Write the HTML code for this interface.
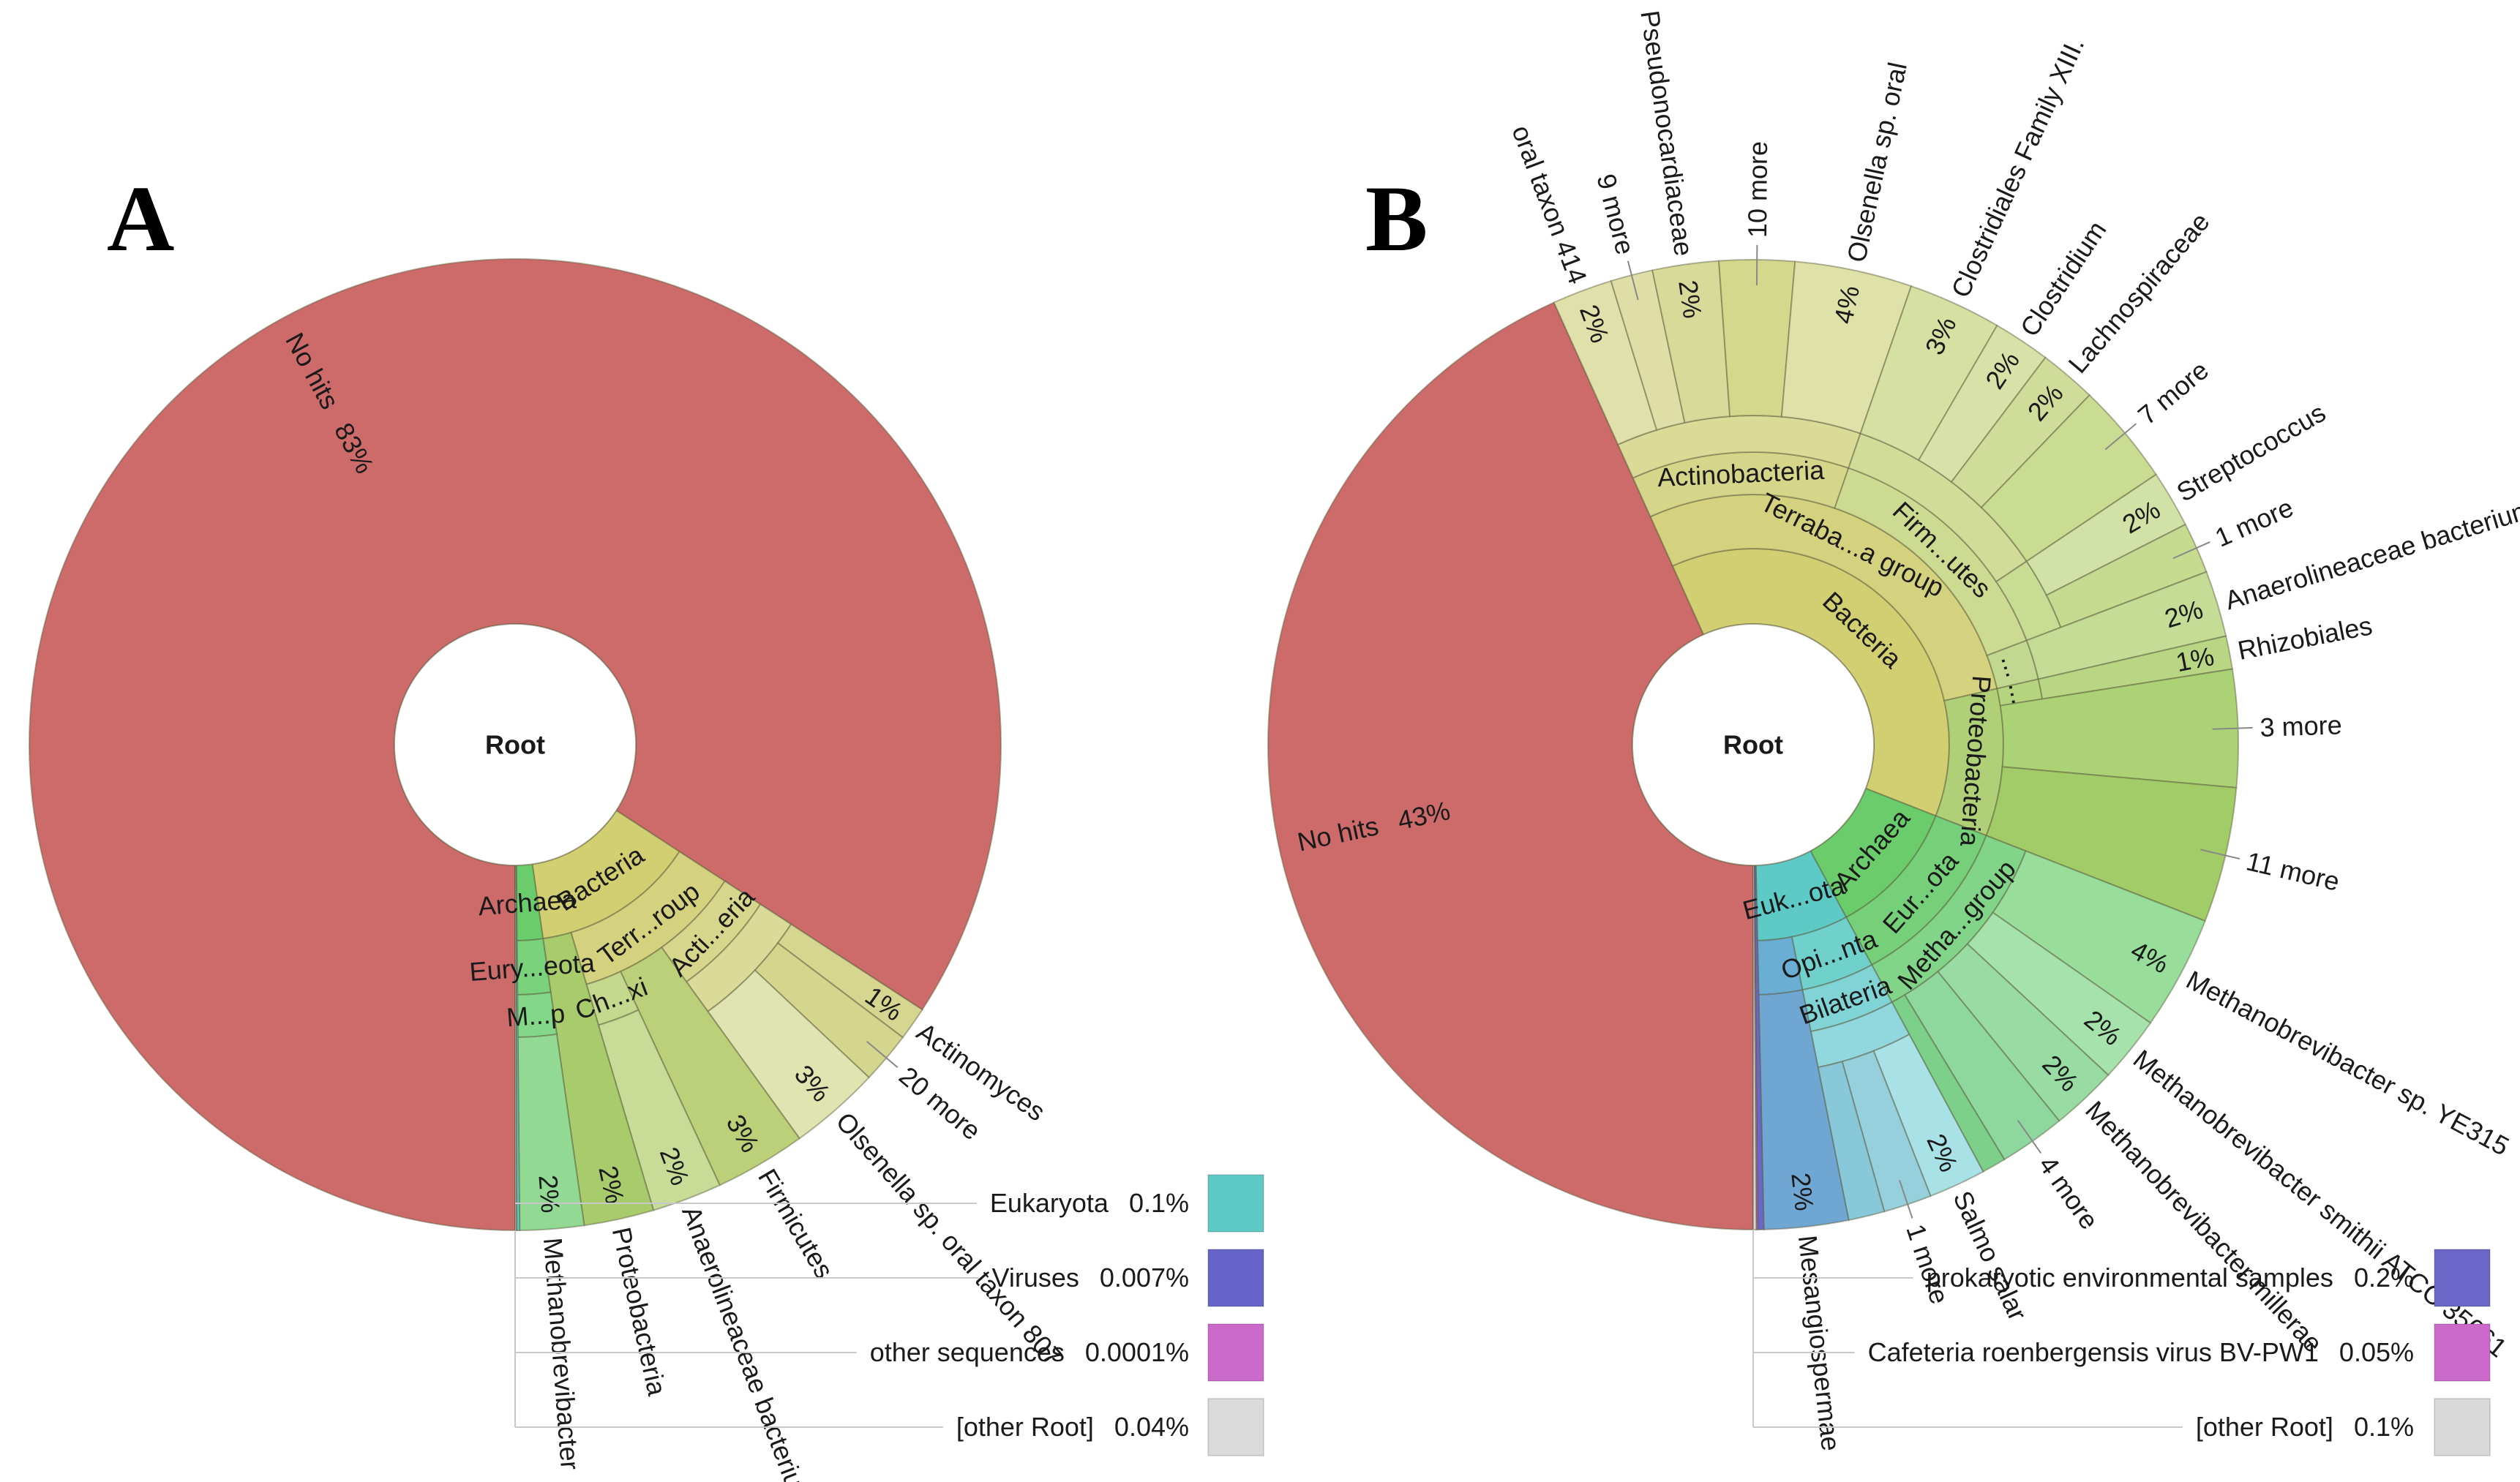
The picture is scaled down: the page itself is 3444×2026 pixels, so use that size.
<!DOCTYPE html>
<html><head><meta charset="utf-8">
<style>
html,body{margin:0;padding:0;background:#fff;}
svg{display:block;}
text{font-family:"Liberation Sans","DejaVu Sans",sans-serif;fill:#1a1a1a;}
.lbl{font-size:36px;}
.root{font-size:36px;font-weight:bold;}
.big{font-family:"Liberation Serif",serif;font-size:128px;font-weight:bold;fill:#000;}
</style></head>
<body>
<svg id="chart" width="3444" height="2026" viewBox="0 0 3444 2026" xmlns="http://www.w3.org/2000/svg">
<rect width="3444" height="2026" fill="#fff"/>
<text class="big" x="146" y="342">A</text>
<text class="big" x="1866" y="342">B</text>
<g id="gA"></g>
<g id="gB"></g>
</svg>
<script>
// ---------- Chart A data ----------
const namesA=["No hits","Bacteria","Terr...roup","Acti...eria","","Actinomyces","20 more","Olsenella sp. oral taxon 807","Firmicutes","Ch...xi","Anaerolineaceae bacterium","Proteobacteria","Archaea","Eury...eota","M...p","Methanobrevibacter","Eukaryota","Viruses","other sequences","[other Root]"];
const parentsA=[-1,-1,1,2,3,4,4,4,2,2,9,1,-1,12,13,14,-1,-1,-1,-1];
const valuesA=[83.3,13.4,11.1,5.8,5.8,1.1,1.7,3.0,3.0,2.3,2.3,2.3,2.1,2.1,2.1,2.1,0.1,0.007,0.0001,0.04];
const pctA=["83%","","","","","1%","","3%","3%","","2%","2%","","","","2%","","","",""];
const typesA=[4,1,1,1,0,2,3,2,2,1,2,2,1,1,1,2,0,0,0,0];
const colorsA=["#cd6b6b","#d2ce72","#d4d27e","#d6d68c","#dadb98","#d6d690","#d4d68e","#e0e4b0","#bcd07a","#c4d88e","#c8dc98","#a8cc6c","#6acc6a","#7ad27c","#84d688","#92da94","#5ecac6","#6764c9","#cc6acc","#dadada"];
const legendNamesA=["Eukaryota","Viruses","other sequences","[other Root]"];
const legendPctA=["0.1%","0.007%","0.0001%","0.04%"];
const legendColorsA=["#5ecac6","#6764c9","#cc6acc","#dadada"];

// ---------- Chart B data ----------
const namesB=["No hits","Bacteria","Terraba...a group","Actinobacteria","","oral taxon 414","9 more","Pseudonocardiaceae","10 more","Olsenella sp. oral","Firm...utes","","Clostridiales Family XIII.","Clostridium","Lachnospiraceae","7 more","","Streptococcus","1 more","...","Anaerolineaceae bacterium","Proteobacteria","...","Rhizobiales","3 more","11 more","Archaea","Eur...ota","Metha...group","Methanobrevibacter sp. YE315","Methanobrevibacter smithii ATCC 35061","Methanobrevibacter millerae","4 more","","Euk...ota","Opi...nta","Bilateria","","Salmo salar","1 more","","","Mesangiospermae","prokaryotic environmental samples","Cafeteria roenbergensis virus BV-PW1","[other Root]"];
const parentsB=[-1,-1,1,2,3,4,4,4,4,4,2,10,11,11,11,11,10,16,16,2,19,1,21,22,21,21,-1,26,27,28,28,28,28,28,-1,34,35,36,37,37,37,34,41,-1,-1,-1];
const valuesB=[43.2,37.6,28.1,12.0,12.0,2.0,1.4,2.2,2.5,3.9,13.9,10.3,3.1,1.9,1.9,3.4,3.6,1.9,1.7,2.2,2.2,9.5,1.1,1.1,3.9,4.5,11.2,11.2,11.2,3.8,2.2,2.2,2.2,0.8,7.5,4.7,4.7,4.7,1.9,1.6,1.2,2.8,2.8,0.2,0.05,0.1];
const pctB=["43%","","","","","2%","","2%","","4%","","","3%","2%","2%","","","2%","","","2%","","","1%","","","","","","4%","2%","2%","","","","","","","2%","","","","2%","","",""];
const typesB=[4,1,1,1,0,2,3,2,3,2,1,0,2,2,2,3,0,2,3,1,2,1,1,2,3,3,1,1,1,2,2,2,3,0,1,1,1,0,2,3,0,0,2,0,0,0];
const colorsB=["#cd6b6b","#d2ce72","#d4d27e","#d6d68a","#dadb96","#e0e0aa","#dedea6","#d8da9a","#d4d88c","#dfe2a8","#cddb92","#d0dc98","#d6e0a2","#d8e2a8","#d0dc9a","#cadc92","#c8dc94","#d2e2a6","#c6da90","#c2d890","#c4dc96","#b0d078","#b4d47e","#b8d684","#acd276","#a2cc68","#6acc6a","#76d07a","#82d488","#98de9a","#a6e2ac","#98dca4","#8ed8a0","#7cd08a","#5ecac6","#6fd0cc","#80d4d6","#90d8de","#a8e2e6","#96d0dc","#88c8d8","#6aaed4","#6fa6d2","#6b67c9","#cc6acc","#d9d9d9"];
const legendNamesB=["prokaryotic environmental samples","Cafeteria roenbergensis virus BV-PW1","[other Root]"];
const legendPctB=["0.2%","0.05%","0.1%"];
const legendColorsB=["#6b67c9","#cc6acc","#d9d9d9"];

const RAD=[165,268,342,400,450,495,535,575];
const NS="http://www.w3.org/2000/svg";
function mk(tag,attrs,parent){const e=document.createElementNS(NS,tag);for(const k in attrs)e.setAttribute(k,attrs[k]);parent.appendChild(e);return e;}
function pt(cx,cy,r,a){const t=a*Math.PI/180;return [cx+r*Math.cos(t),cy+r*Math.sin(t)];}
function sector(cx,cy,r0,r1,a0,a1){
  const big=(a1-a0)>180?1:0;
  const p1=pt(cx,cy,r1,a0),p2=pt(cx,cy,r1,a1),p3=pt(cx,cy,r0,a1),p4=pt(cx,cy,r0,a0);
  return `M${p1[0]},${p1[1]}A${r1},${r1} 0 ${big} 1 ${p2[0]},${p2[1]}L${p3[0]},${p3[1]}A${r0},${r0} 0 ${big} 0 ${p4[0]},${p4[1]}Z`;
}
function txt(g,x,y,rot,anchor,str,cls){
  const t=mk('text',{x:x,y:y,'text-anchor':anchor,'dominant-baseline':'central',class:cls||'lbl',transform:`rotate(${rot} ${x} ${y})`},g);
  t.textContent=str;
  
  
  return t;
}
function drawChart(g,cx,cy,R,names,parents,values,colors,types,pcts){
  const kids=names.map(()=>[]),roots=[];
  parents.forEach((p,i)=>{if(p<0)roots.push(i);else kids[p].push(i);});
  const total=roots.reduce((s,i)=>s+values[i],0);
  const st=[],en=[],dp=[];
  (function place(list,a0,d){let a=a0;for(const i of list){st[i]=a;en[i]=a+values[i]/total*360;dp[i]=d;a=en[i];place(kids[i],st[i],d+1);}})(roots,90,1);
  const order=names.map((_,i)=>i);
  for(const i of order){
    const r0=RAD[dp[i]-1], r1=kids[i].length?RAD[dp[i]]:R;
    if(en[i]-st[i]<0.0005)continue;
    const p=mk('path',{d:sector(cx,cy,r0,r1,st[i],en[i]),fill:colors[i],stroke:'rgba(90,90,60,0.45)','stroke-width':2},g);
    
    
  }
  // hole
  const hole=mk('circle',{cx:cx,cy:cy,r:RAD[0],fill:'#fff',stroke:'rgba(90,90,60,0.45)','stroke-width':2},g);
  
  
  const rt=mk('text',{x:cx,y:cy,'text-anchor':'middle','dominant-baseline':'central',class:'root'},g);
  rt.textContent='Root';
  
  
  for(const i of order){
    const mid=(st[i]+en[i])/2, c=Math.cos(mid*Math.PI/180);
    const r0=RAD[dp[i]-1], r1=kids[i].length?RAD[dp[i]]:R;
    if(types[i]===1){
      let rot=mid+90; while(rot>180)rot-=360; while(rot<=-180)rot+=360;
      if(rot>100)rot-=180; if(rot<-80)rot+=180;
      const p=pt(cx,cy,(r0+r1)/2,mid); txt(g,p[0],p[1],rot,'middle',names[i]);
    } else if(types[i]===4){
      const rot=c>=0?mid:mid+180; const p=pt(cx,cy,R*0.8,mid);
      txt(g,p[0],p[1],rot,'middle',names[i]+'\u2002 '+pcts[i]);
    } else if(types[i]===2||types[i]===3){
      const rot=c>=0?mid:mid+180, anc=c>=0?'start':'end';
      if(types[i]===3){
        const a=pt(cx,cy,R-35,mid),b=pt(cx,cy,R+20,mid);
        const ln=mk('line',{x1:a[0],y1:a[1],x2:b[0],y2:b[1],stroke:'#888','stroke-width':2},g);
        
        
        const p=pt(cx,cy,R+30,mid); txt(g,p[0],p[1],rot,anc,names[i]);
      } else {
        const p=pt(cx,cy,R+12,mid); txt(g,p[0],p[1],rot,anc,names[i]);
      }
      if(pcts[i]){const q=pt(cx,cy,R-48,mid); txt(g,q[0],q[1],rot,'middle',pcts[i]);}
    }
  }
}
function drawLegend(g,cx,cy,R,names,pcts,colors,y0,pctRight,swX){
  const lines=[];
  names.forEach((n,k)=>{
    const y=y0+k*102;
    const sw=mk('rect',{x:swX,y:y-39,width:76,height:78,fill:colors[k],stroke:'rgba(0,0,0,0.12)','stroke-width':2},g);
    
    
    const t=mk('text',{x:pctRight,y:y+12,'text-anchor':'end',class:'lbl'},g);
    t.textContent=pcts[k];
    
    
    const nx=pctRight-t.getComputedTextLength()-28;
    const t2=mk('text',{x:nx,y:y+12,'text-anchor':'end',class:'lbl'},g);
    t2.textContent=n;
    
    
    const lx=nx-t2.getComputedTextLength()-18;
    const ln=mk('line',{x1:cx,y1:y,x2:lx,y2:y,stroke:'#c8c8c8','stroke-width':2},g);
    
    
    lines.push(y);
  });
  const v=mk('line',{x1:cx,y1:cy+R,x2:cx,y2:lines[lines.length-1],stroke:'#c8c8c8','stroke-width':2},g);
  
  
}
const gA=document.getElementById('gA'),gB=document.getElementById('gB');
drawChart(gA,704,1018,664,namesA,parentsA,valuesA,colorsA,typesA,pctA);
drawLegend(gA,704,1018,664,legendNamesA,legendPctA,legendColorsA,1645,1625,1651);
drawChart(gB,2396,1018,663,namesB,parentsB,valuesB,colorsB,typesB,pctB);
drawLegend(gB,2396,1018,663,legendNamesB,legendPctB,legendColorsB,1747,3299,3327);
</script>
</body></html>
